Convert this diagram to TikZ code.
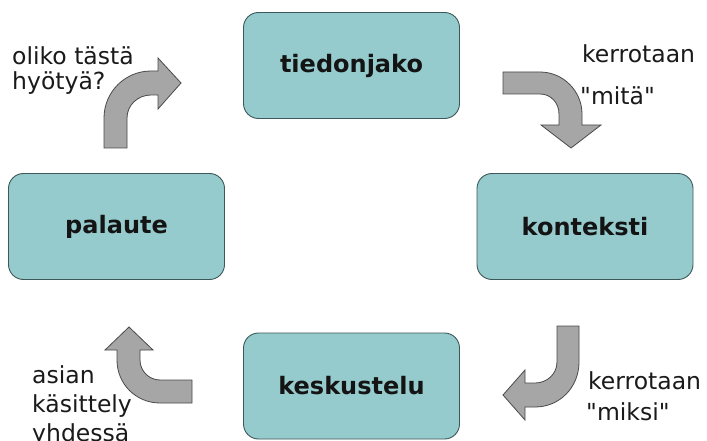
\documentclass[tikz,border=0pt]{standalone}
\usepackage{fontspec}
\setmainfont{DejaVu Sans}
\newfontfamily\plainfont{DejaVu Sans}
\definecolor{boxfill}{HTML}{96CBCD}
\definecolor{boxline}{HTML}{3E5859}
\definecolor{arrfill}{HTML}{A6A6A6}
\definecolor{arrline}{HTML}{4A4A4A}
\definecolor{txt}{HTML}{1A1A1A}
\begin{document}
\begin{tikzpicture}[x=1pt,y=-1pt,
  box/.style={draw=boxline,line width=0.9pt,fill=boxfill,rounded corners=15pt,
    minimum width=216pt,minimum height=106pt,inner sep=0pt,
    font=\fontsize{24}{26}\selectfont\bfseries,text=black!92},
  lbl/.style={anchor=base west,inner sep=0pt,font=\plainfont\fontsize{23.5}{25}\selectfont,text=txt},
  bent/.style={draw=arrline,line width=0.8pt,fill=arrfill,line join=miter}]
\useasboundingbox (0,0) rectangle (707,441);
\fill[white] (0,0) rectangle (707,441);
% boxes
\node[box] (tied) at (351.5,65.5) {tiedonjako};
\node[box] (kont) at (585,226.5) {konteksti};
\node[box] (pal) at (116.5,226.5) {palaute};
\node[box] (kesk) at (351.5,386) {keskustelu};
% arrows
\draw[bent] (104,148) -- (104,118) .. controls (104,92) and (125,71) .. (151,71)
  -- (158,71) -- (158,58) -- (181,83) -- (158,109) -- (158,95) -- (151,95)
  .. controls (138,95) and (127,105) .. (127,118) -- (127,148) -- cycle;
\draw[bent] (503,72) -- (540,72) .. controls (563,72) and (582,91) .. (582,114)
  -- (582,125) -- (601,125) -- (571,148) -- (541,125) -- (559,125) -- (559,114)
  .. controls (559,103) and (551,94) .. (540,94) -- (503,94) -- cycle;
\draw[bent] (557,326) -- (579,326) -- (579,362) .. controls (579,387) and (560,407) .. (535,407)
  -- (525,407) -- (525,420) -- (503,395) -- (525,370) -- (525,383) -- (535,383)
  .. controls (547,383) and (557,374) .. (557,362) -- cycle;
\draw[bent] (192,380) -- (192,403) -- (160,403) .. controls (136,403) and (117,384) .. (117,360)
  -- (117,350) -- (105,350) -- (129,327) -- (153,350) -- (140,350) -- (140,360)
  .. controls (140,371) and (149,380) .. (160,380) -- cycle;
% labels
\node[lbl] (l1a) at (12,65) {oliko tästä};
\node[lbl] (l1b) at (12,90) {hyötyä?};
\node[lbl] (l2a) at (582,63) {kerrotaan};
\node[lbl] (l2b) at (580,105) {"mitä"};
\node[lbl] (l3a) at (588,389) {kerrotaan};
\node[lbl] (l3b) at (586,420) {"miksi"};
\node[lbl] (l4a) at (32,383) {asian};
\node[lbl] (l4b) at (32,412) {käsittely};
\node[lbl] (l4c) at (32,441) {yhdessä};
\end{tikzpicture}
\end{document}
